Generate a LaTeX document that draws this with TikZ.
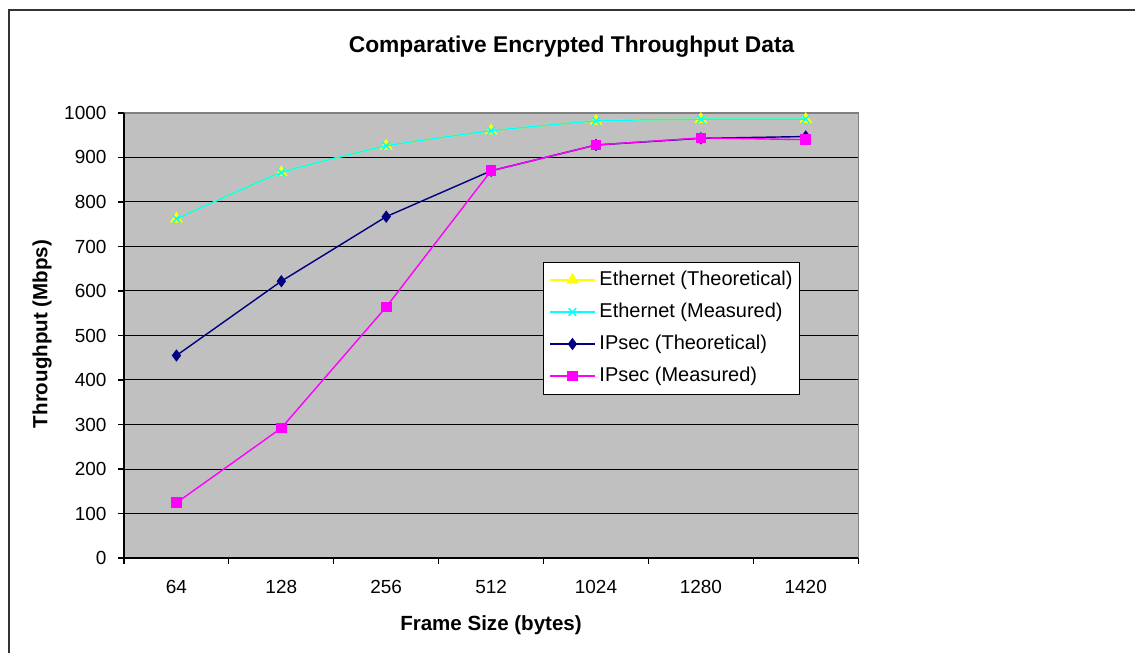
\documentclass[tikz,border=0pt]{standalone}
\usepackage{fontspec}
\setmainfont{Liberation Sans}
\usetikzlibrary{matrix, plotmarks, positioning}

\definecolor{plotbg}{HTML}{C0C0C0}
\definecolor{plotedge}{HTML}{808080}
\definecolor{ethyellow}{HTML}{FFFF00}
\definecolor{ethcyan}{HTML}{00FFFF}
\definecolor{ipsecnavy}{HTML}{000080}
\definecolor{ipsecmagenta}{HTML}{FF00FF}

\newcommand{\legendsize}{\fontsize{14.2}{17}\selectfont}

\tikzset{
	frame/.style={draw=black!80, line width=1.2pt},
	charttitle/.style={font=\fontsize{16.2}{19}\selectfont\bfseries},
	axistitle/.style={font=\fontsize{14.6}{17}\selectfont\bfseries},
	ticklabel/.style={font=\fontsize{13.5}{16}\selectfont, inner sep=0pt},
	gridline/.style={draw=black, line width=0.7pt},
	plotborder/.style={draw=plotedge, line width=0.8pt},
	axisline/.style={draw=black, line width=0.8pt},
	series/.style={line width=1pt, mark size=3.4pt},
	eththeo/.style={series, color=ethyellow, mark=triangle*, mark size=4.2pt},
	ethmeas/.style={series, color=ethcyan, mark=x, mark size=3.8pt},
	ipsectheo/.style={series, color=ipsecnavy, mark=diamond*, mark size=3.6pt},
	ipsecmeas/.style={series, color=ipsecmagenta, mark=square*, mark size=3.3pt}
}

\begin{document}
\begin{tikzpicture}[x=0.025cm, y=-0.025cm]
	\useasboundingbox (0,0) rectangle (1135,653);
	\draw[frame] (9,653) -- (9,10) -- (1135,10);
	\node[charttitle] (title) at (571.6,47) {Comparative Encrypted Throughput Data};
	\node[axistitle, rotate=90] (ytitle) at (42,334) {Throughput (Mbps)};
	\node[axistitle] (xtitle) at (491,625) {Frame Size (bytes)};

	\begin{scope}[shift={(124,558)}, x=2.6214cm, y=0.011125cm]
		\fill[plotbg] (0,0) rectangle (7,1000);
		\foreach \v in {100,200,...,900}
			\draw[gridline] (0,\v) -- (7,\v);
		\draw[plotborder] (0,1000) -- (7,1000) -- (7,0);
		\draw[axisline] (0,1000) -- (0,0) -- (7,0);
		\foreach \v in {0,100,...,1000}
			\draw[axisline] (0,\v) -- ++(-0.15cm,0pt)
				node[ticklabel, left=0.275cm] (ylab\v) {\v};
		\foreach \k in {0,...,7}
			\draw[axisline] (\k,0) -- ++(0pt,-0.15cm);
		\foreach \i/\lab in {1/64, 2/128, 3/256, 4/512, 5/1024, 6/1280, 7/1420}
			\node[ticklabel, yshift=-0.725cm] (xlab\i) at (\i-0.5,0) {\lab};

		\draw[eththeo] plot[smooth, tension=0.25] coordinates
			{(0.5,762) (1.5,866) (2.5,926) (3.5,960) (4.5,982) (5.5,986) (6.5,986)};
		\draw[ethmeas] plot[smooth, tension=0.25] coordinates
			{(0.5,762) (1.5,866) (2.5,926) (3.5,960) (4.5,982) (5.5,986) (6.5,986)};
		\draw[ipsectheo] plot coordinates
			{(0.5,455) (1.5,622) (2.5,767) (3.5,870) (4.5,928) (5.5,943) (6.5,947)};
		\draw[ipsecmeas] plot coordinates
			{(0.5,124) (1.5,292) (2.5,564) (3.5,870) (4.5,928) (5.5,944) (6.5,940)};
	\end{scope}

	\matrix [matrix of nodes,
	nodes in empty cells,
	draw=black, fill=white, line width=0.6pt,
	inner xsep=0.17cm, inner ysep=0.05cm,
	column sep=0.125cm,
	nodes={minimum height=0.8cm, inner sep=0pt, font=\legendsize},
	column 1/.style={minimum width=1.1cm},
	column 2/.style={anchor=west}]
	at (671.5,328)
	(legend)
	{
		& Ethernet (Theoretical) \\
		& Ethernet (Measured) \\
		& IPsec (Theoretical) \\
		& IPsec (Measured) \\
	};
	\foreach \r/\s in {1/eththeo, 2/ethmeas, 3/ipsectheo, 4/ipsecmeas}
		\draw[\s, mark indices={2}] plot coordinates
			{(legend-\r-1.west) (legend-\r-1.center) (legend-\r-1.east)};
\end{tikzpicture}
\end{document}
